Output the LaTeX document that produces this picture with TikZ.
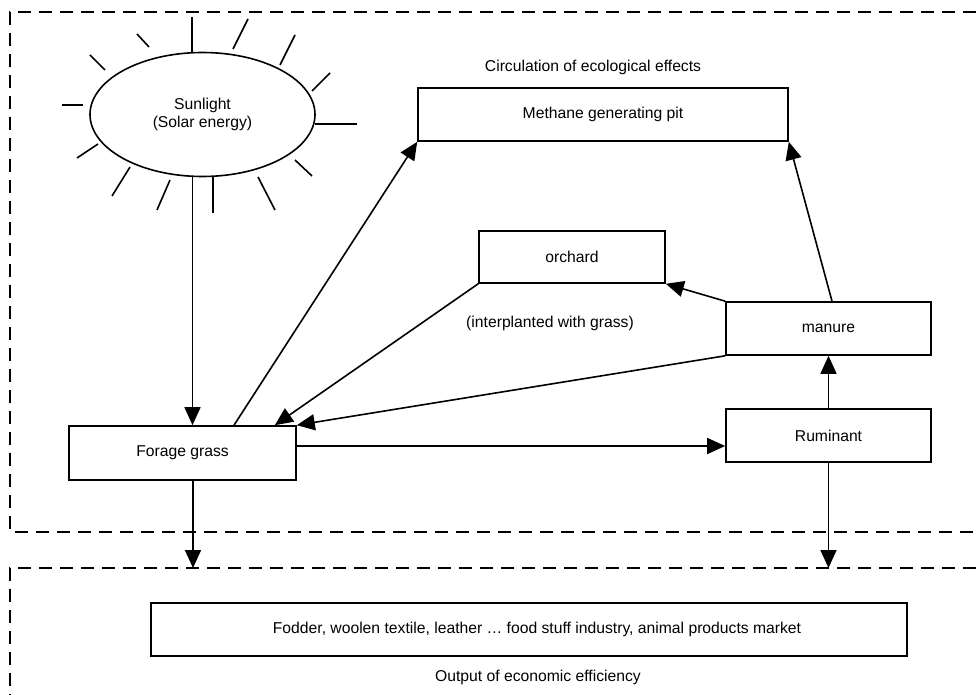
\documentclass[tikz,border=0pt]{standalone}
\usepackage{fontspec}
\setmainfont{Liberation Sans}
\usetikzlibrary{arrows.meta,shapes.geometric}
\tikzset{
	box/.style={draw, line width=1.6pt, inner sep=0pt},
	arr/.style={line width=1.6pt, -{Triangle[length=18pt,width=16pt]}},
	frame/.style={line width=2.8pt, dash pattern=on 13pt off 8pt},
	ray/.style={line width=1.6pt}
}
\begin{document}
\begin{tikzpicture}[x=1pt, y=-1pt, font=\fontsize{15.7}{18}\selectfont]
			%%%%% START %%%%%
			\useasboundingbox (0,0) rectangle (976,695);
			
			% dashed frames
			\draw[frame] (976,12) -- (10,12) -- (10,532) -- (976,532);
			\draw[frame] (976,568) -- (10,568) -- (10,695);
			\coordinate (outL) at (193,568);
			\coordinate (outR) at (828,568);
			
			% sun
			\node[draw, ellipse, line width=1.6pt, minimum width=225pt, minimum height=124pt, inner sep=0pt, align=center] (sun) at (202.5,114.5) {Sunlight\\(Solar energy)};
			\foreach \ax/\ay/\bx/\by in {137/34/149/47, 90/55/105/70, 62/105/83/105, 77/158/98/144, 112/196/130/167, 157/210/170/180, 213/177/213/213, 258/177/275/210, 295/160/312/176, 315/124/357/124, 312/91/330/73, 280/65/295/35, 233/49/248/19, 192/53/192/17}
				\draw[ray] (\ax,\ay) -- (\bx,\by);
			
			\node (circ) at (593,67) {Circulation of ecological effects};
			\node[box, minimum width=370pt, minimum height=53pt] (pit) at (603,114.5) {Methane generating pit};
			\node[box, minimum width=186pt, minimum height=52pt] (orchard) at (572,257) {orchard};
			\node (inter) at (550,323) {(interplanted with grass)};
			\node[box, minimum width=205pt, minimum height=53pt] (manure) at (828.5,328.5) {manure};
			\node[box, minimum width=205pt, minimum height=53pt] (ruminant) at (828.5,435.5) {Ruminant};
			\node[box, minimum width=227pt, minimum height=54pt] (forage) at (182.5,453) {Forage grass};
			
			\node[box, minimum width=756pt, minimum height=53pt] (market) at (529,629.5) {\hspace{16pt}Fodder, woolen textile, leather … food stuff industry, animal products market};
			\node (output) at (538,677) {Output of economic efficiency};
			
			% arrows
			\coordinate (sunfoot) at ([xshift=-10pt]sun.south);
			\draw[arr] (sunfoot) -- (sunfoot |- forage.north);
			\draw[arr] ([xshift=51.5pt]forage.north) -- (pit.south west);
			\draw[arr] (orchard.south west) -- ([xshift=-22pt]forage.north east);
			\draw[arr] (manure.south west) -- (forage.north east);
			\draw[arr] (manure.north west) -- (orchard.south east);
			\draw[arr] ([xshift=3.5pt]manure.north) -- (pit.south east);
			\draw[arr] (ruminant.north) -- (manure.south);
			\draw[arr] ([yshift=7pt]forage.east) -- ([yshift=-10.5pt]ruminant.west);
			\draw[arr] (outL |- forage.south) -- (outL);
			\draw[arr] (ruminant.south) -- (ruminant.south |- outR);
			
			%%%%% END %%%%%
		\end{tikzpicture}
\end{document}
